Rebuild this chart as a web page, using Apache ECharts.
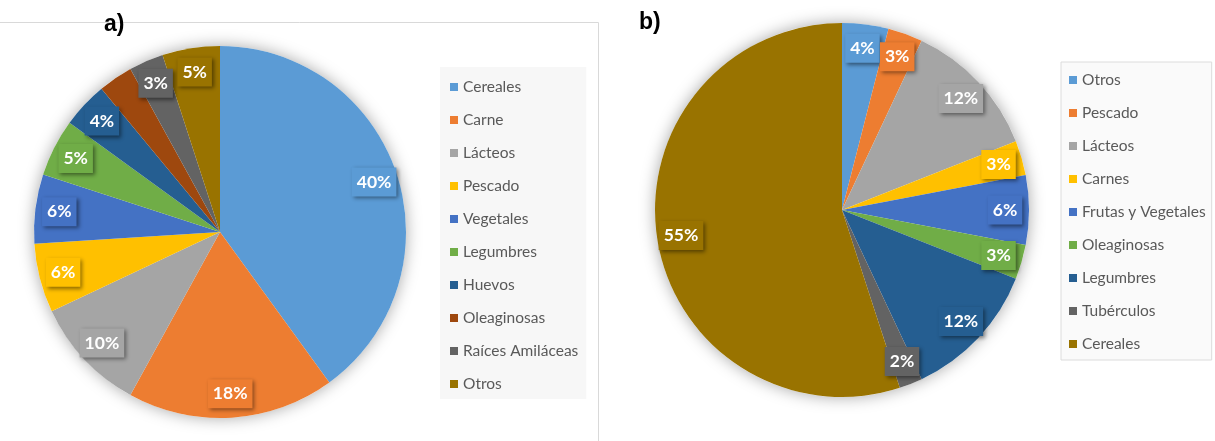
<!DOCTYPE html>
<html><head><meta charset="utf-8">
<script src="https://cdn.jsdelivr.net/npm/echarts@6/dist/echarts.min.js"></script>
<style>html,body{margin:0;padding:0;background:#fff}#c{width:1215px;height:441px}</style>
</head><body><div id="c"></div>
<script>
// ---- Data (a) ----
const catsA = ['Cereales','Carne','Lácteos','Pescado','Vegetales','Legumbres','Huevos','Oleaginosas','Raíces Amiláceas','Otros'];
const valsA = [40,18,10,6,6,5,4,3,3,5];
const colorsA = ['#5B9BD5','#ED7D31','#A5A5A5','#FFC000','#4472C4','#70AD47','#255E91','#9E480E','#636363','#997300'];
// ---- Data (b) ----
const catsB = ['Otros','Pescado','Lácteos','Carnes','Frutas y Vegetales','Oleaginosas','Legumbres','Tubérculos','Cereales'];
const valsB = [4,3,12,3,6,3,12,2,55];
const colorsB = ['#5B9BD5','#ED7D31','#A5A5A5','#FFC000','#4472C4','#70AD47','#255E91','#636363','#997300'];
const titles = ['a)','b)'];

const chart = echarts.init(document.getElementById('c'), null, {renderer:'canvas'});

function pieSeries(cats, vals, colors, center, R) {
  const backing = {
    type:'pie', center, radius:R, silent:true, z:1,
    label:{show:false}, labelLine:{show:false},
    data:[{value:1, name:'', itemStyle:{color:'#ffffff', shadowBlur:16, shadowColor:'rgba(0,0,0,0.35)'}}],
    emphasis:{disabled:true}, tooltip:{show:false}
  };
  const main = {
    type:'pie', center, radius:R, z:2, startAngle:90, clockwise:true,
    label:{show:false}, labelLine:{show:false},
    emphasis:{disabled:true},
    data: cats.map((n,i)=>({name:n, value:vals[i], itemStyle:{color:colors[i]}}))
  };
  const labels = {
    type:'pie', center, radius:[R-54, R], z:3, startAngle:90, clockwise:true, silent:true,
    labelLine:{show:false}, emphasis:{disabled:true},
    label:{show:true, position:'inside', formatter:'{c}%', color:'#ffffff',
      fontFamily:'Lato', fontWeight:'bold', fontSize:17.5, padding:[6,5,5,5],
      shadowColor:'rgba(0,0,0,0.45)', shadowBlur:4, shadowOffsetX:2, shadowOffsetY:2},
    data: cats.map((n,i)=>({name:n, value:vals[i], itemStyle:{color:'rgba(0,0,0,0)'},
      label:{backgroundColor:colors[i]}}))
  };
  return [backing, main, labels];
}

const legendText = {color:'#595959', fontFamily:'Lato', fontSize:15.5, lineHeight:16};

chart.setOption({
  animation:false,
  title:[
    {text:titles[0], left:99, top:8, textStyle:{fontFamily:'Liberation Sans', fontWeight:'bold', fontSize:23, color:'#000'}},
    {text:titles[1], left:634, top:6, textStyle:{fontFamily:'Liberation Sans', fontWeight:'bold', fontSize:23, color:'#000'}}
  ],
  graphic:[
    {type:'line', z:-1, shape:{x1:0, y1:22.5, x2:598.5, y2:22.5}, style:{stroke:'#d9d9d9', lineWidth:1}},
    {type:'line', z:-1, shape:{x1:598.5, y1:22.5, x2:598.5, y2:441}, style:{stroke:'#d9d9d9', lineWidth:1}}
  ],
  legend:[
    {orient:'vertical', left:440, top:67, icon:'rect', itemWidth:8, itemHeight:8, itemGap:17,
     padding:[12,8,7,10], backgroundColor:'#f7f7f7', textStyle:legendText, selectedMode:false,
     data: catsA.map((n,i)=>({name:n, itemStyle:{color:colorsA[i]}}))},
    {orient:'vertical', left:1061, top:62, icon:'rect', itemWidth:8, itemHeight:8, itemGap:17,
     padding:[10,6,8,8], backgroundColor:'#fafafa', borderColor:'#dcdcdc', borderWidth:1,
     textStyle:legendText, selectedMode:false,
     data: catsB.map((n,i)=>({name:n, itemStyle:{color:colorsB[i]}}))}
  ],
  series:[
    ...pieSeries(catsA, valsA, colorsA, [220,232], 186),
    ...pieSeries(catsB, valsB, colorsB, [842,210], 187)
  ]
});
</script>
</body></html>
